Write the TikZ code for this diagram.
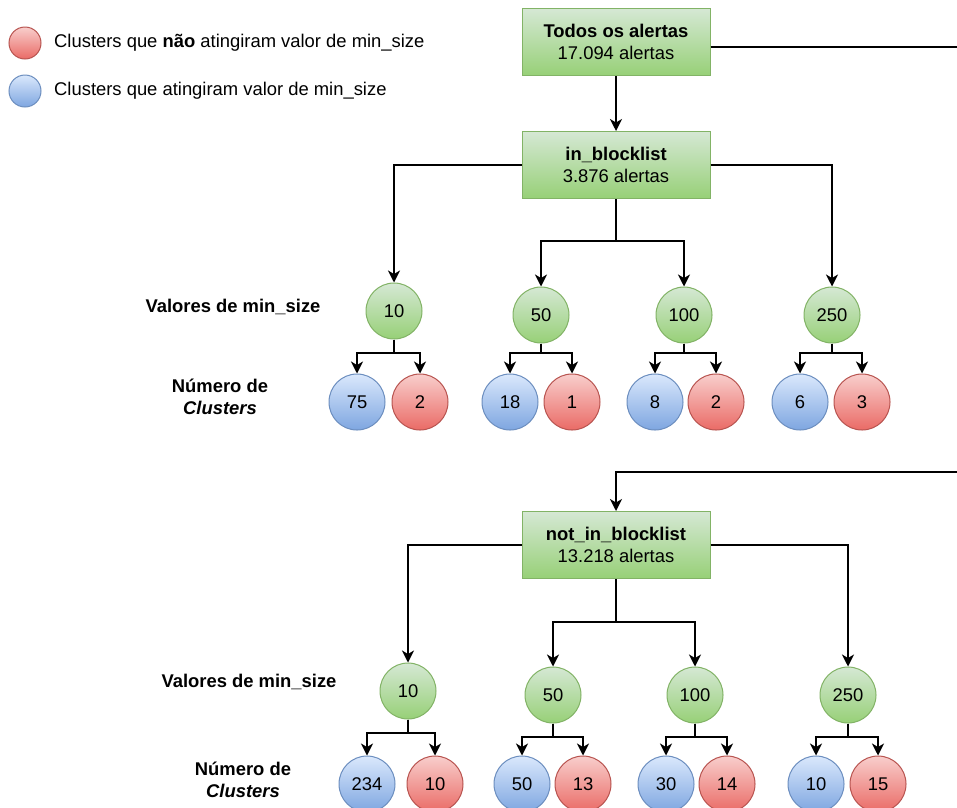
\documentclass[tikz,border=0pt]{standalone}
\usepackage{fontspec}
\setmainfont{Liberation Sans}
\usetikzlibrary{arrows.meta}
\definecolor{grnline}{HTML}{82B366}
\definecolor{grntop}{HTML}{D5E8D4}
\definecolor{grnbot}{HTML}{97D077}
\definecolor{redline}{HTML}{B85450}
\definecolor{redtop}{HTML}{F8CECC}
\definecolor{redbot}{HTML}{EA6B66}
\definecolor{bluline}{HTML}{6C8EBF}
\definecolor{blutop}{HTML}{DAE8FC}
\definecolor{blubot}{HTML}{7EA6E0}
\begin{document}
\begin{tikzpicture}[x=1pt,y=-1pt,font=\fontsize{18.4}{22}\selectfont,
  setbox/.style={draw=grnline,line width=1pt,top color=grntop,bottom color=grnbot,
    minimum width=188pt,minimum height=67pt,inner sep=0pt,align=center},
  minsz/.style={circle,draw=grnline,line width=1pt,top color=grntop,bottom color=grnbot,
    minimum size=56pt,inner sep=0pt},
  okclu/.style={circle,draw=bluline,line width=1pt,top color=blutop,bottom color=blubot,
    minimum size=56pt,inner sep=0pt},
  lowclu/.style={circle,draw=redline,line width=1pt,top color=redtop,bottom color=redbot,
    minimum size=56pt,inner sep=0pt},
  conn/.style={line width=1.6pt,-{Stealth[length=12pt,width=12pt,inset=3.5pt]}},
  rowlbl/.style={font=\bfseries\fontsize{18.4}{22}\selectfont,align=center}]
  \clip (0,0) rectangle (957,807);
  % legend
  \node[lowclu,minimum size=32pt] (legmiss) at (25,43) {};
  \node[anchor=west,inner sep=0pt] (legmisstxt) at (54,43)
    {Clusters que \textbf{não} atingiram valor de min\_size};
  \node[okclu,minimum size=32pt] (leghit) at (25,91) {};
  \node[anchor=west,inner sep=0pt] (leghittxt) at (54,91)
    {Clusters que atingiram valor de min\_size};
  % sets of alerts
  \node[setbox] (todos) at (616,42) {\textbf{Todos os alertas}\\17.094 alertas};
  \node[setbox] (inbl) at (616,165) {\textbf{in\_blocklist}\\3.876 alertas};
  \node[setbox] (notbl) at (616,545) {\textbf{not\_in\_blocklist}\\13.218 alertas};
  % in_blocklist
  \node[rowlbl] (vals1) at (233,307) {Valores de min\_size};
  \node[rowlbl] (num1) at (220,397) {Número de\\\textit{Clusters}};
  \node[minsz] (a10) at (394,311) {10};
  \node[minsz] (a50) at (541,315) {50};
  \node[minsz] (a100) at (684,315) {100};
  \node[minsz] (a250) at (832,315) {250};
  \node[okclu] (a10ok) at (357,402) {75};
  \node[lowclu] (a10lo) at (420,402) {2};
  \node[okclu] (a50ok) at (510,402) {18};
  \node[lowclu] (a50lo) at (572,402) {1};
  \node[okclu] (a100ok) at (655,402) {8};
  \node[lowclu] (a100lo) at (716,402) {2};
  \node[okclu] (a250ok) at (800,402) {6};
  \node[lowclu] (a250lo) at (862,402) {3};
  % not_in_blocklist
  \node[rowlbl] (vals2) at (249,682) {Valores de min\_size};
  \node[rowlbl] (num2) at (243,780) {Número de\\\textit{Clusters}};
  \node[minsz] (b10) at (408,691) {10};
  \node[minsz] (b50) at (553,695) {50};
  \node[minsz] (b100) at (695,695) {100};
  \node[minsz] (b250) at (848,695) {250};
  \node[okclu] (b10ok) at (367,784) {234};
  \node[lowclu] (b10lo) at (435,784) {10};
  \node[okclu] (b50ok) at (522,784) {50};
  \node[lowclu] (b50lo) at (583,784) {13};
  \node[okclu] (b100ok) at (666,784) {30};
  \node[lowclu] (b100lo) at (727,784) {14};
  \node[okclu] (b250ok) at (816,784) {10};
  \node[lowclu] (b250lo) at (878,784) {15};
  % connectors
  \draw[conn] (todos) -- (inbl);
  \draw[conn] ([yshift=-5pt]todos.east) -- (962,47) -- (962,472) -| (notbl);
  \draw[conn] (inbl.west) -| (a10);
  \draw[conn] (inbl.east) -| (a250);
  \draw[conn] (inbl) -- (inbl |- 0,241) -| (a50);
  \draw[conn] (inbl) -- (inbl |- 0,241) -| (a100);
  \draw[conn] (notbl.west) -| (b10);
  \draw[conn] (notbl.east) -| (b250);
  \draw[conn] (notbl) -- (notbl |- 0,622) -| (b50);
  \draw[conn] (notbl) -- (notbl |- 0,622) -| (b100);
  \draw[conn] (a10) -- (a10 |- 0,353) -| (a10ok);
  \draw[conn] (a10) -- (a10 |- 0,353) -| (a10lo);
  \draw[conn] (a50) -- (a50 |- 0,353) -| (a50ok);
  \draw[conn] (a50) -- (a50 |- 0,353) -| (a50lo);
  \draw[conn] (a100) -- (a100 |- 0,353) -| (a100ok);
  \draw[conn] (a100) -- (a100 |- 0,353) -| (a100lo);
  \draw[conn] (a250) -- (a250 |- 0,353) -| (a250ok);
  \draw[conn] (a250) -- (a250 |- 0,353) -| (a250lo);
  \draw[conn] (b10) -- (b10 |- 0,733) -| (b10ok);
  \draw[conn] (b10) -- (b10 |- 0,733) -| (b10lo);
  \draw[conn] (b50) -- (b50 |- 0,737) -| (b50ok);
  \draw[conn] (b50) -- (b50 |- 0,737) -| (b50lo);
  \draw[conn] (b100) -- (b100 |- 0,737) -| (b100ok);
  \draw[conn] (b100) -- (b100 |- 0,737) -| (b100lo);
  \draw[conn] (b250) -- (b250 |- 0,737) -| (b250ok);
  \draw[conn] (b250) -- (b250 |- 0,737) -| (b250lo);
\end{tikzpicture}
\end{document}
